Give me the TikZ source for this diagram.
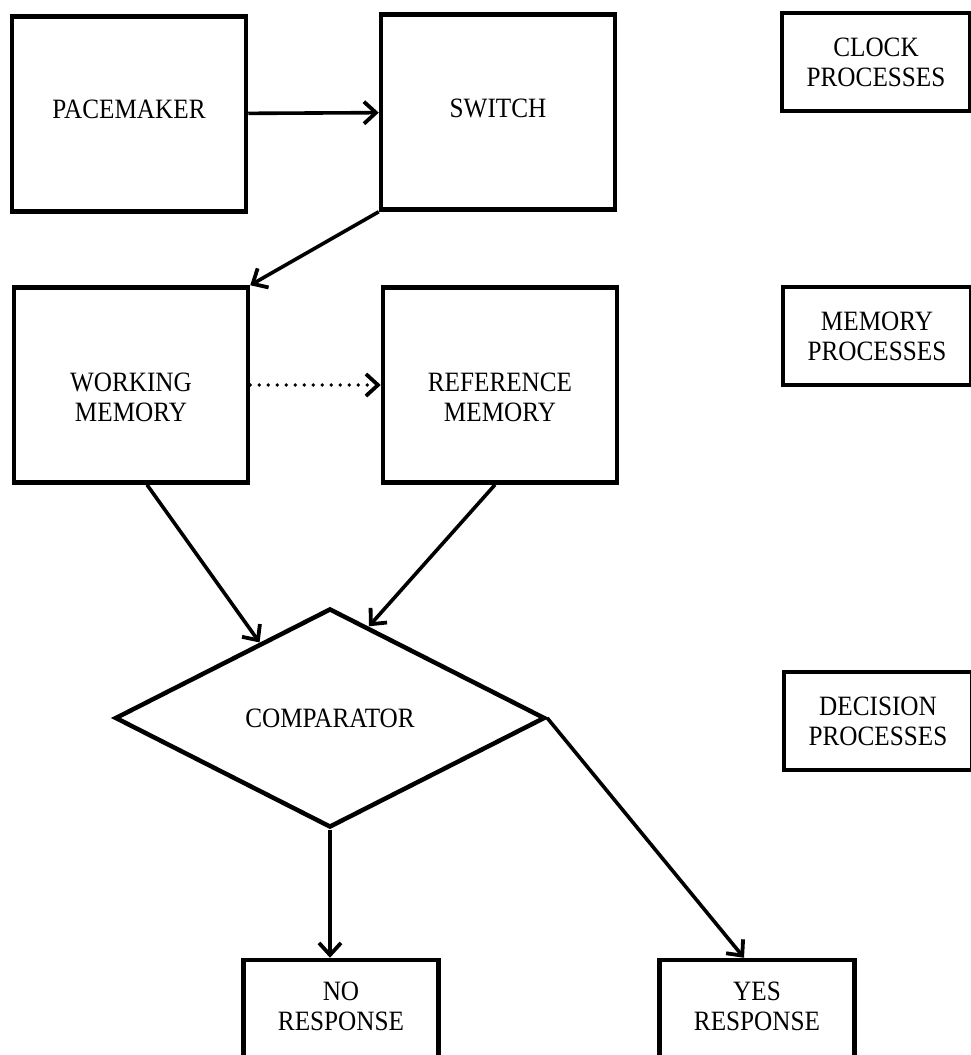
\documentclass[tikz,border=0pt]{standalone}
\usepackage{fontspec}
\setmainfont{Liberation Serif}[FakeStretch=0.9]
\usetikzlibrary{arrows.meta,shapes.geometric}

\tikzset{
  lbl/.style={font=\fontsize{28}{30}\selectfont, align=center, inner sep=0pt},
  block/.style={lbl, draw, line width=4.5pt, minimum width=234pt, minimum height=195pt},
  procbox/.style={lbl, draw, line width=4.5pt, minimum width=188pt, minimum height=98pt},
  respbox/.style={lbl, draw, line width=4.5pt, minimum width=195pt, minimum height=110pt},
  decide/.style={lbl, draw, diamond, line width=4.5pt, minimum width=430pt, minimum height=219pt},
  arr/.style={line width=3.6pt, -{Straight Barb[length=12pt, width=22pt, line width=3.8pt]}},
}

\begin{document}
\begin{tikzpicture}[x=1pt, y=-1pt]
      \useasboundingbox (0,0) rectangle (971,1055);
      \clip (0,0) rectangle (971,1055);
      % clock stage
      \node[block, label={[lbl, yshift=5pt]center:PACEMAKER}] (pm) at (129,114) {};
      \node[block, label={[lbl, yshift=4pt]center:SWITCH}] (sw) at (498,112) {};
      \node[procbox] (clk) at (876,62) {CLOCK\\PROCESSES};
      % memory stage
      \node[block, label={[lbl, yshift=-12pt]center:{WORKING\\MEMORY}}] (wm) at (131,385) {};
      \node[block, label={[lbl, yshift=-12pt]center:{REFERENCE\\MEMORY}}] (rm) at (500,385) {};
      \node[procbox] (mem) at (877,336) {MEMORY\\PROCESSES};
      % decision stage
      \node[decide] (cmp) at (330,718) {COMPARATOR};
      \node[procbox] (dec) at (878,721) {DECISION\\PROCESSES};
      \node[respbox, label={[lbl, yshift=9pt]center:{NO\\RESPONSE}}] (no) at (341,1015) {};
      \node[respbox, label={[lbl, yshift=9pt]center:{YES\\RESPONSE}}] (yes) at (757,1015) {};

      \draw[arr] (pm) -- (sw);
      \draw[arr] (sw.south west) -- (wm.north east);
      \draw[arr, line cap=round, dash pattern=on 0pt off 9pt] (wm) -- (rm);
      \draw[arr] ([xshift=16pt]wm.south) -- (cmp.133);
      \draw[arr] ([xshift=-5pt]rm.south) -- (cmp.67);
      \draw[arr] (cmp.south) -- (cmp.south |- no.north);
      \draw[arr] (cmp.east) -- ([xshift=-13pt]yes.north);
    \end{tikzpicture}
\end{document}
